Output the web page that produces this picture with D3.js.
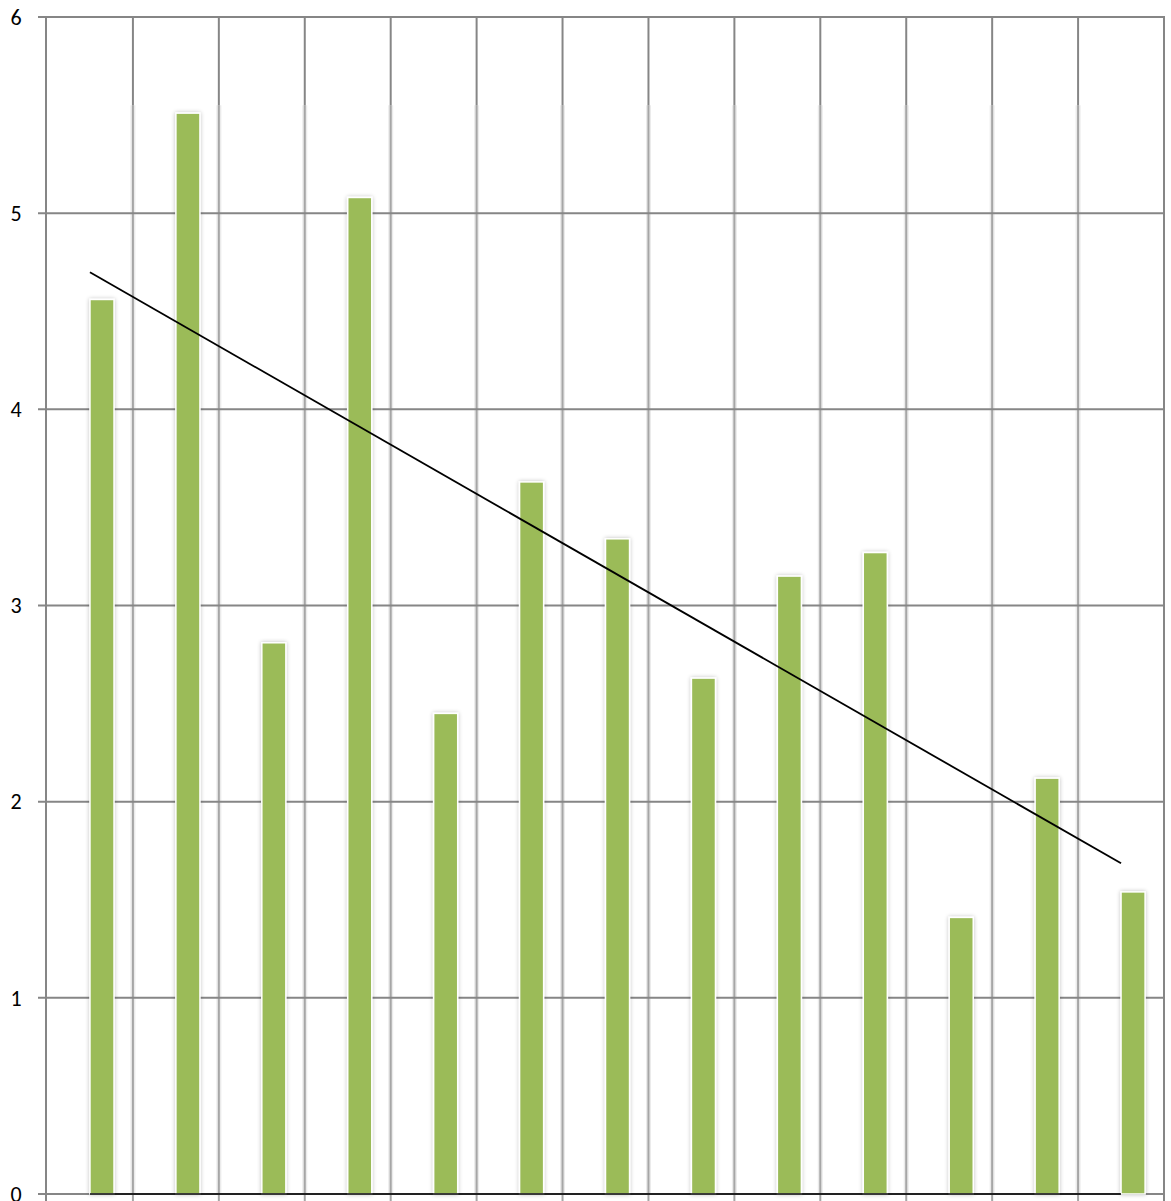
<!DOCTYPE html>
<html>
<head>
<meta charset="utf-8">
<script src="https://cdn.jsdelivr.net/npm/d3@7"></script>
<style>
  html, body { margin: 0; padding: 0; background: #fff; }
  svg { display: block; }
</style>
</head>
<body>
<div id="chart"></div>
<script>
const categories = ["1", "2", "3", "4", "5", "6", "7", "8", "9", "10", "11", "12", "13"];
const values = [4.56, 5.51, 2.81, 5.08, 2.45, 3.63, 3.34, 2.63, 3.15, 3.27, 1.41, 2.12, 1.54];
const yTicks = [0, 1, 2, 3, 4, 5, 6];

const width = 1171;
const height = 1201;
const margin = { top: 17, right: 7, bottom: 7, left: 47 };

const svg = d3.select("#chart").append("svg")
  .attr("width", width)
  .attr("height", height);

const x = d3.scaleBand()
  .domain(categories)
  .range([margin.left, width - margin.right])
  .padding(0);

const y = d3.scaleLinear()
  .domain([0, 6])
  .range([height - margin.bottom, margin.top]);

const cx = d => x(d) + x.bandwidth() / 2;
const barW = x.bandwidth() * 0.28;

// shadow for bars
const defs = svg.append("defs");
const shadow = defs.append("filter").attr("id", "shadow")
  .attr("x", "-50%").attr("y", "-5%").attr("width", "200%").attr("height", "110%");
shadow.append("feGaussianBlur").attr("in", "SourceAlpha").attr("stdDeviation", 2).attr("result", "b");
shadow.append("feComponentTransfer").attr("in", "b").attr("result", "b2")
  .append("feFuncA").attr("type", "linear").attr("slope", 0.25);
const merge = shadow.append("feMerge");
merge.append("feMergeNode").attr("in", "b2");
merge.append("feMergeNode").attr("in", "SourceGraphic");

// vertical gridlines at category boundaries
const bounds = categories.slice(1).map(c => x(c));
const fadeY = y(5.55);
const vg = svg.append("g");
vg.selectAll("line.glow").data(bounds).join("line")
  .attr("x1", d => d).attr("x2", d => d)
  .attr("y1", fadeY).attr("y2", y(0))
  .attr("stroke", "#ebebeb").attr("stroke-width", 5);
vg.selectAll("line.light").data(bounds).join("line")
  .attr("x1", d => d).attr("x2", d => d)
  .attr("y1", fadeY).attr("y2", height)
  .attr("stroke", "#a6a6a6").attr("stroke-width", 2);
vg.selectAll("line.dark").data(bounds).join("line")
  .attr("x1", d => d).attr("x2", d => d)
  .attr("y1", y(6)).attr("y2", fadeY)
  .attr("stroke", "#868686").attr("stroke-width", 2);

// horizontal gridlines + left ticks
svg.append("g")
  .selectAll("line").data(yTicks).join("line")
  .attr("x1", margin.left - 9).attr("x2", width - margin.right)
  .attr("y1", d => y(d)).attr("y2", d => y(d))
  .attr("stroke", "#868686").attr("stroke-width", 2);

// y axis and right border
svg.append("line")
  .attr("x1", margin.left - 1).attr("x2", margin.left - 1)
  .attr("y1", y(6)).attr("y2", height)
  .attr("stroke", "#868686").attr("stroke-width", 2);
svg.append("line")
  .attr("x1", width - margin.right).attr("x2", width - margin.right)
  .attr("y1", y(6) - 1).attr("y2", height)
  .attr("stroke", "#868686").attr("stroke-width", 2);

// y labels
svg.append("g")
  .selectAll("text").data(yTicks).join("text")
  .attr("x", 16).attr("y", d => y(d))
  .attr("dy", "0.35em")
  .attr("text-anchor", "middle")
  .attr("font-family", "Carlito, 'Open Sans', sans-serif")
  .attr("font-size", 22)
  .attr("fill", "#000")
  .text(d => d);

// bars
svg.append("g")
  .selectAll("rect").data(values).join("rect")
  .attr("x", (d, i) => cx(categories[i]))
  .attr("y", d => y(d))
  .attr("width", barW)
  .attr("height", d => y(0) - y(d))
  .attr("fill", "#9bbb59")
  .attr("stroke", "#fff")
  .attr("stroke-width", 1.5)
  .attr("filter", "url(#shadow)");

// zero line series
const first = categories[0], last = categories[categories.length - 1];
svg.append("line")
  .attr("x1", cx(first)).attr("x2", cx(last))
  .attr("y1", y(0)).attr("y2", y(0))
  .attr("stroke", "#000").attr("stroke-width", 1.5);

// linear trendline from the bar values
const n = values.length;
const mx = d3.mean(d3.range(n));
const my = d3.mean(values);
const slope = d3.sum(values, (v, i) => (i - mx) * (v - my)) / d3.sum(d3.range(n), i => (i - mx) ** 2);
const icpt = my - slope * mx;
svg.append("line")
  .attr("x1", cx(first)).attr("y1", y(icpt))
  .attr("x2", cx(last)).attr("y2", y(icpt + slope * (n - 1)))
  .attr("stroke", "#000").attr("stroke-width", 1.8);
</script>
</body>
</html>
